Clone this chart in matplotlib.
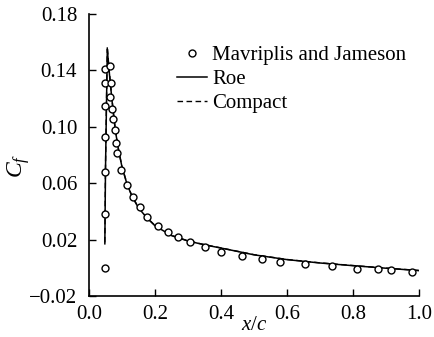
import matplotlib
matplotlib.use("Agg")
import matplotlib.pyplot as plt

# Experimental data (Mavriplis and Jameson)
exp_x = [0.048, 0.048, 0.048, 0.048, 0.048, 0.048, 0.048,
         0.064, 0.067, 0.063, 0.069, 0.072, 0.080, 0.081, 0.086, 0.098, 0.114,
         0.133, 0.155, 0.177, 0.208, 0.238, 0.269, 0.305, 0.353, 0.399, 0.463,
         0.523, 0.579, 0.655, 0.736, 0.811, 0.875, 0.914, 0.978]
exp_y = [0.1408, 0.131, 0.1148, 0.093, 0.0677, 0.038, -0.0005,
         0.1433, 0.131, 0.121, 0.1126, 0.1053, 0.098, 0.0885, 0.0816, 0.0696, 0.0586,
         0.0502, 0.0429, 0.0362, 0.0296, 0.0252, 0.0219, 0.0185, 0.0145, 0.0114, 0.0081,
         0.0060, 0.0043, 0.0025, 0.0011, -0.0006, -0.0011, -0.0018, -0.0028]

# Roe scheme
roe_x = [0.048, 0.050, 0.0555, 0.060, 0.065, 0.070, 0.075, 0.080, 0.090, 0.100,
         0.115, 0.130, 0.150, 0.175, 0.200, 0.250, 0.300, 0.350, 0.400, 0.500,
         0.600, 0.700, 0.800, 0.900, 1.000]
roe_y = [0.017, 0.070, 0.155, 0.142, 0.130, 0.118, 0.107, 0.097, 0.083, 0.0715,
         0.0595, 0.0508, 0.0425, 0.0355, 0.0298, 0.0228, 0.0190, 0.0163, 0.0140, 0.0092,
         0.0058, 0.0034, 0.0015, -0.0003, -0.0020]

# Compact scheme
cmp_x = [0.048, 0.050, 0.0555, 0.060, 0.065, 0.070, 0.075, 0.080, 0.090, 0.100,
         0.115, 0.130, 0.150, 0.175, 0.200, 0.250, 0.300, 0.350, 0.400, 0.500,
         0.600, 0.700, 0.800, 0.900, 1.000]
cmp_y = [0.018, 0.072, 0.157, 0.143, 0.131, 0.119, 0.108, 0.098, 0.083, 0.0718,
         0.0597, 0.0510, 0.0427, 0.0357, 0.0300, 0.0230, 0.0191, 0.0164, 0.0141, 0.0093,
         0.0059, 0.0035, 0.0016, -0.0002, -0.0019]

x_ticks = [0.0, 0.2, 0.4, 0.6, 0.8, 1.0]
y_ticks = [-0.02, 0.02, 0.06, 0.10, 0.14, 0.18]

plt.rcParams['font.family'] = ['Liberation Serif', 'DejaVu Serif']
plt.rcParams['mathtext.fontset'] = 'custom'
plt.rcParams['mathtext.rm'] = 'Liberation Serif'
plt.rcParams['mathtext.it'] = 'Liberation Serif:italic'

fig = plt.figure(figsize=(4.35, 3.37), dpi=100)
ax = fig.add_axes([0.2046, 0.1217, 0.7586, 0.8368])

ax.plot(exp_x, exp_y, linestyle='none', marker='o', markersize=5,
        markerfacecolor='white', markeredgecolor='black', markeredgewidth=1.0,
        label='Mavriplis and Jameson', zorder=3)
ax.plot(roe_x, roe_y, color='black', linewidth=1.1, label='Roe', zorder=2)
ax.plot(cmp_x, cmp_y, color='black', linewidth=1.0, dashes=(4, 2.5),
        label='Compact', zorder=2)

ax.set_xlim(0.0, 1.0)
ax.set_ylim(-0.02, 0.18)
ax.set_xticks(x_ticks)
ax.set_xticklabels([f"{v:.1f}" for v in x_ticks])
ax.set_yticks(y_ticks)
ax.set_yticklabels(["\u22120.02", "0.02", "0.06", "0.10", "0.14", "0.18"])
ax.tick_params(direction='in', length=5, width=1.0, labelsize=15)
ax.tick_params(axis='y', pad=8.5)
ax.tick_params(axis='x', pad=6.5)
for s in ['top', 'right']:
    ax.spines[s].set_visible(False)
for s in ['left', 'bottom']:
    ax.spines[s].set_linewidth(1.2)

ax.set_xlabel('$x/c$', fontsize=15, va='baseline')
ax.xaxis.set_label_coords(0.5, -0.122)
ax.set_ylabel('$C_f$', fontsize=17)
ax.yaxis.set_label_coords(-0.172, 0.46)

leg = ax.legend(loc='upper left', bbox_to_anchor=(0.266, 0.888), frameon=False,
                fontsize=15, handlelength=1.45, handletextpad=0.24,
                labelspacing=0.22, borderaxespad=0, borderpad=0)

fig.savefig('out.png', dpi=100)
